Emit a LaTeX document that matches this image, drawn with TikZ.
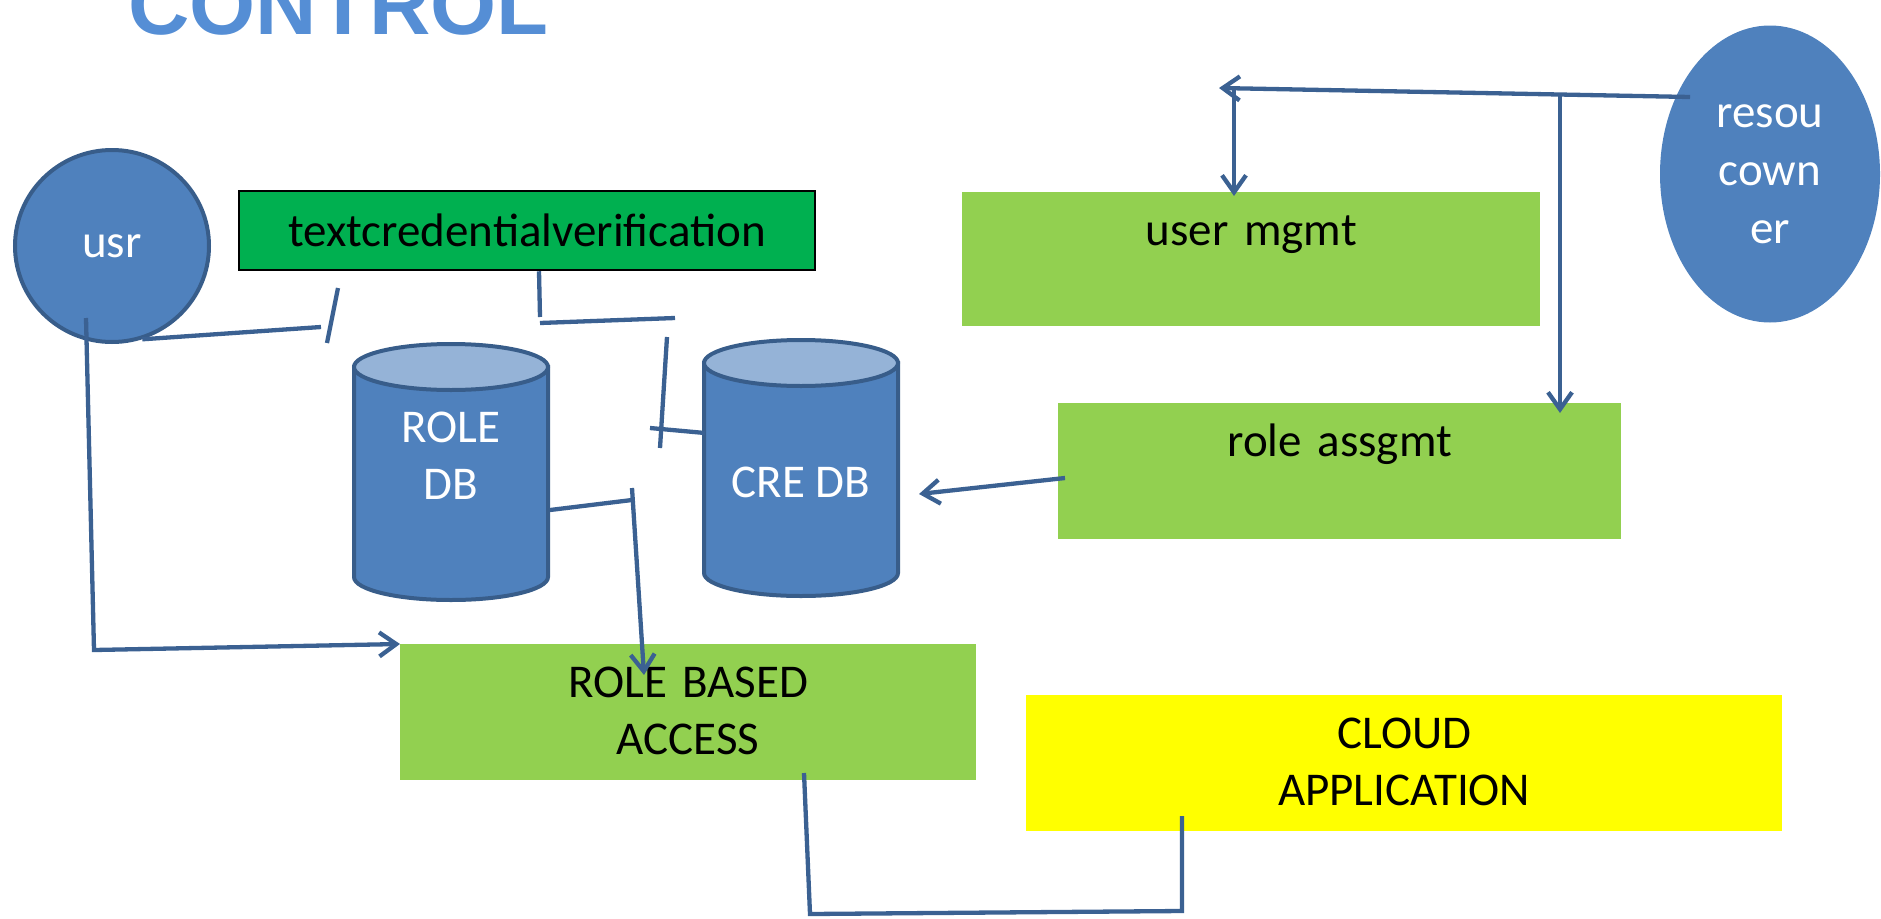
\documentclass[tikz,border=0pt]{standalone}
\usepackage{fontspec}
\setmainfont{Carlito}
\newfontfamily\headfont{Liberation Sans}
\usepackage{tikz}
\usetikzlibrary{shapes.geometric, arrows.meta}
\definecolor{nodeblue}{HTML}{4F81BD}
\definecolor{topblue}{HTML}{95B3D7}
\definecolor{edgeblue}{HTML}{385D8A}
\definecolor{linkblue}{HTML}{3B6192}
\definecolor{boxgreen}{HTML}{92D050}
\definecolor{verigreen}{HTML}{00B050}
\definecolor{cloudyellow}{HTML}{FFFF00}
\definecolor{headblue}{HTML}{558ED5}
\tikzstyle{actor} = [ellipse, fill=nodeblue, inner sep=0pt, text=white, align=center, font=\fontsize{47}{58}\selectfont]
\tikzstyle{drum} = [draw=edgeblue, line width=4pt, fill=nodeblue]
\tikzstyle{dblabel} = [inner sep=0pt, text=white, align=center, font=\fontsize{47}{57}\selectfont]
\tikzstyle{process} = [rectangle, fill=boxgreen, inner sep=0pt, align=center, text height=53pt, font=\fontsize{47}{57}\selectfont]
\tikzstyle{link} = [line width=4.3pt, draw=linkblue]
\tikzstyle{arrow} = [link, -{Straight Barb[length=17pt,width=24pt]}]

\begin{document}
\begin{tikzpicture}[x=1pt, y=-1pt]
\useasboundingbox (0,0) rectangle (1881,918);
\node (head) [anchor=base west, inner sep=0pt, text=headblue, font=\headfont\bfseries\fontsize{85}{100}\selectfont] at (128,34) {CONTROL};

\node (usr) [actor, draw=edgeblue, line width=4pt, minimum width=194pt, minimum height=192pt] at (112,246) {usr};
\node (owner) [actor, minimum width=220pt, minimum height=297pt] at (1770,174) {resou\\cown\\er};
\node (cred) [rectangle, draw=black, line width=2.5pt, fill=verigreen, minimum width=576pt, minimum height=79pt, font=\fontsize{47}{57}\selectfont] at (527,230.5) {textcredentialverification};

% databases
\path [drum] (354,367) -- (354,577) arc [start angle=180, end angle=360, x radius=97pt, y radius=23pt] -- (548,367) -- cycle;
\path [drum, fill=topblue] (451,367) ellipse [x radius=97pt, y radius=23pt];
\node (roledb) [dblabel] at (451,456) {ROLE\\DB};
\path [drum] (704,363) -- (704,573) arc [start angle=180, end angle=360, x radius=97pt, y radius=23pt] -- (898,363) -- cycle;
\path [drum, fill=topblue] (801,363) ellipse [x radius=97pt, y radius=23pt];
\node (credb) [dblabel] at (801,482) {CRE DB};

\node (usermgmt) [process, anchor=north west, text width=578pt, text depth=81pt] at (962,192) {user mgmt};
\node (roleassg) [process, anchor=north west, text width=563pt, text depth=83pt] at (1058,403) {role assgmt};
\node (rba) [process, anchor=north west, text width=576pt, text depth=83pt] at (400,644) {ROLE BASED\\ACCESS};
\node (cloud) [process, fill=cloudyellow, anchor=north west, text width=756pt, text depth=83pt] at (1026,695) {CLOUD\\APPLICATION};

% owner to user mgmt and role assgmt
\coordinate (ownout) at (1690,97);
\coordinate (ownend) at (1219,88);
\coordinate (mgmtfork) at (1234,89);
\coordinate (assgfork) at (1560,95);
\draw [arrow] (ownout) -- (ownend);
\draw [arrow] (mgmtfork) -- ([yshift=-4pt]mgmtfork |- usermgmt.north);
\draw [arrow] (assgfork) -- ([yshift=-10pt]assgfork |- roleassg.north);

% role assgmt to cre db
\coordinate (assgout) at (1065,478);
\coordinate (credin) at (919,494);
\draw [arrow] (assgout) -- (credin);

% usr to role based access
\coordinate (usrdrop) at (86,318);
\coordinate (usrbend) at (94,650);
\draw [arrow] (usrdrop) -- (usrbend) -- (rba.north west);

% usr to credential check
\coordinate (usrhook) at (321,327);
\coordinate (hooktop) at (338,288);
\coordinate (hookbot) at (327,343);
\draw [link] (usr.-72) -- (usrhook);
\draw [link] (hooktop) -- (hookbot);

% credential check to cre db
\coordinate (credknee) at (540,317);
\coordinate (credrun) at (540,323);
\coordinate (credrunend) at (675,318);
\coordinate (creddrop) at (667,337);
\coordinate (creddropend) at (660,448);
\coordinate (credstub) at (650,428);
\coordinate (credjoin) at (705,433);
\draw [link] ([xshift=12pt]cred.south) -- (credknee);
\draw [link] (credrun) -- (credrunend);
\draw [link] (creddrop) -- (creddropend);
\draw [link] (credstub) -- (credjoin);

% role db to role based access
\coordinate (roleout) at (550,510);
\coordinate (rolebend) at (632,500);
\coordinate (roletop) at (632,488);
\coordinate (rbain) at (644,675);
\draw [link] (roleout) -- (rolebend);
\draw [arrow] (roletop) -- (rbain);

% role based access to cloud
\coordinate (rbaout) at (804,773);
\coordinate (rbalow) at (810,914);
\coordinate (cloudlow) at (1182,911);
\coordinate (cloudin) at (1182,816);
\draw [link] (rbaout) -- (rbalow) -- (cloudlow) -- (cloudin);
\end{tikzpicture}
\end{document}
